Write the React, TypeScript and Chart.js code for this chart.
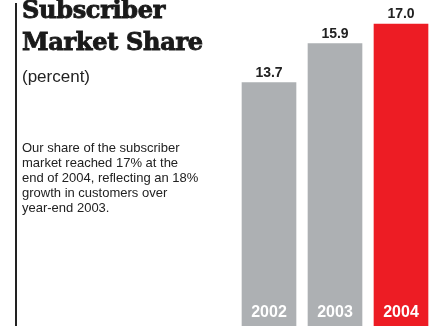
import React, { useEffect, useRef } from "react";
import { Chart, registerables } from "chart.js";

Chart.register(...registerables);

const categories = ["2002", "2003", "2004"];
const shareValues = [13.7, 15.9, 17.0];
const valueLabels = ["13.7", "15.9", "17.0"];
const barColors = ["#adb0b3", "#adb0b3", "#ed1c24"];

const labelPlugin = {
  id: "barLabels",
  afterDatasetsDraw(chart: any) {
    const { ctx } = chart;
    const meta = chart.getDatasetMeta(0);
    ctx.save();
    ctx.textAlign = "center";
    meta.data.forEach((bar: any, i: number) => {
      ctx.fillStyle = "#222222";
      ctx.font = "bold 14px 'Liberation Sans', Arial, sans-serif";
      ctx.textBaseline = "alphabetic";
      ctx.fillText(valueLabels[i], bar.x, bar.y - 6);
      ctx.fillStyle = "#ffffff";
      ctx.font = "bold 16px 'Liberation Sans', Arial, sans-serif";
      ctx.fillText(categories[i], bar.x, chart.chartArea.bottom - 9);
    });
    ctx.restore();
  },
};

export default function App() {
  const canvasRef = useRef<HTMLCanvasElement>(null);

  useEffect(() => {
    document.body.style.margin = "0";
    const chart = new Chart(canvasRef.current!, {
      type: "bar",
      data: {
        labels: categories,
        datasets: [
          {
            data: shareValues,
            backgroundColor: barColors,
            borderWidth: 0,
            barThickness: 54,
          },
        ],
      },
      options: {
        animation: false,
        responsive: false,
        maintainAspectRatio: false,
        layout: { padding: { left: 236, right: 0, top: 0, bottom: 0 } },
        plugins: {
          legend: { display: false },
          tooltip: { enabled: false },
          title: { display: false },
        },
        scales: {
          x: { display: false, grid: { display: false } },
          y: { display: false, min: 0, max: 18.35, grid: { display: false } },
        },
      },
      plugins: [labelPlugin],
    });
    return () => chart.destroy();
  }, []);

  return (
    <div
      style={{
        position: "absolute",
        left: 0,
        top: 0,
        width: 434,
        height: 326,
        overflow: "hidden",
        background: "#ffffff",
      }}
    >
      <canvas
        ref={canvasRef}
        width={434}
        height={326}
        style={{ position: "absolute", left: 0, top: 0, width: 434, height: 326 }}
      />
      <div
        style={{
          position: "absolute",
          left: 15,
          top: 3,
          width: 2,
          height: 323,
          background: "#222222",
        }}
      />
      <div
        style={{
          position: "absolute",
          left: 22,
          top: -6,
          fontFamily: "'DejaVu Serif', serif",
          fontWeight: "bold",
          fontSize: 24,
          lineHeight: "32px",
          color: "#1a1a1a",
          whiteSpace: "nowrap",
          letterSpacing: "-0.3px",
          WebkitTextStroke: "0.9px #1a1a1a",
        }}
      >
        Subscriber
        <br />
        Market Share
      </div>
      <div
        style={{
          position: "absolute",
          left: 22,
          top: 67,
          fontFamily: "'Liberation Sans', Arial, sans-serif",
          fontSize: 17,
          lineHeight: "20px",
          color: "#222222",
          whiteSpace: "nowrap",
        }}
      >
        (percent)
      </div>
      <div
        style={{
          position: "absolute",
          left: 22,
          top: 139.5,
          fontFamily: "'Liberation Sans', Arial, sans-serif",
          fontSize: 13,
          lineHeight: "15.2px",
          color: "#222222",
          whiteSpace: "nowrap",
        }}
      >
        Our share of the subscriber
        <br />
        market reached 17% at the
        <br />
        end of 2004, reflecting an 18%
        <br />
        growth in customers over
        <br />
        year-end 2003.
      </div>
    </div>
  );
}
